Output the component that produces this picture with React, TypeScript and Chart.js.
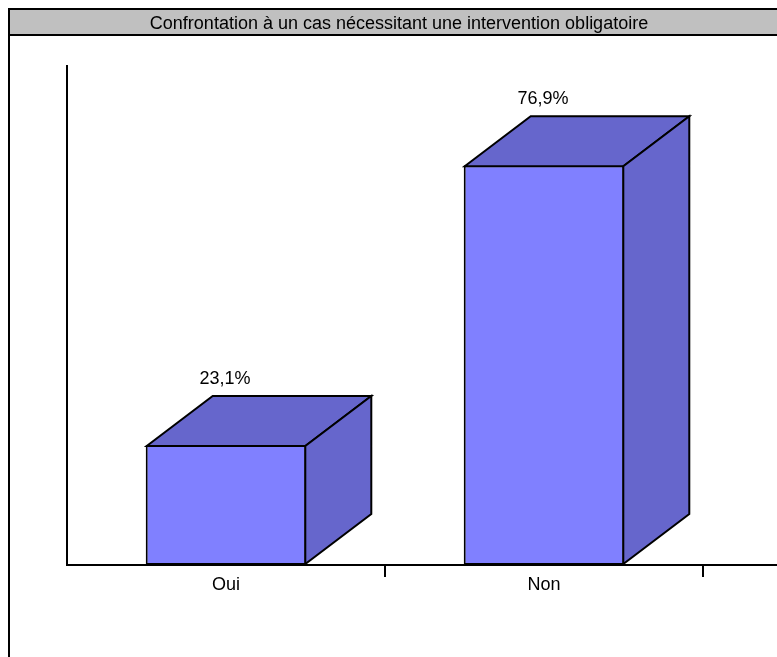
import React, { useEffect, useRef } from 'react';
import { Chart, registerables } from 'chart.js';

Chart.register(...registerables);

const TITLE = 'Confrontation à un cas nécessitant une intervention obligatoire';
const CATEGORIES = ['Oui', 'Non'];
const PERCENTAGES = [23.1, 76.9];
const Y_MAX = 96;

const CANVAS_W = 783;
const CANVAS_H = 660;
const FONT = '"Liberation Sans", Arial, sans-serif';
const FONT_SIZE = 18;
const FRONT_COLOR = '#8080FF';
const SHADE_COLOR = '#6666CC';
const LINE_W = 2;
const DEPTH_X = 66;
const DEPTH_Y = 50;

const formatPct = (v: number) => v.toFixed(1).replace('.', ',') + '%';

// Frame, grey title band and title text
const framePlugin = {
  id: 'frame',
  beforeDraw(chart: any) {
    const { ctx, width, height } = chart;
    ctx.save();
    ctx.fillStyle = '#FFFFFF';
    ctx.fillRect(0, 0, width, height);
    ctx.fillStyle = '#C0C0C0';
    ctx.fillRect(2, 2, width - 4, 24);
    ctx.strokeStyle = '#000000';
    ctx.lineWidth = 2;
    ctx.strokeRect(1, 1, width - 2, height - 2);
    ctx.beginPath();
    ctx.moveTo(0, 27);
    ctx.lineTo(width, 27);
    ctx.stroke();
    ctx.fillStyle = '#000000';
    ctx.font = `${FONT_SIZE}px ${FONT}`;
    ctx.textAlign = 'center';
    ctx.textBaseline = 'alphabetic';
    ctx.fillText(TITLE, 391, 21);
    ctx.restore();
  },
};

// Top and side faces of each bar, value labels, and the floor line continuation
const bar3dPlugin = {
  id: 'bar3d',
  afterDatasetsDraw(chart: any) {
    const { ctx, chartArea } = chart;
    const meta = chart.getDatasetMeta(0);
    const data = chart.data.datasets[0].data as number[];
    ctx.save();
    ctx.lineWidth = LINE_W;
    ctx.strokeStyle = '#000000';
    ctx.lineJoin = 'miter';
    meta.data.forEach((bar: any, i: number) => {
      const { x, y, base, width } = bar.getProps(['x', 'y', 'base', 'width'], true);
      const l = x - width / 2 + 1;
      const r = x + width / 2 - 1;
      const t = y + 1;
      const b = base - 1;
      // top face
      ctx.beginPath();
      ctx.moveTo(l, t);
      ctx.lineTo(l + DEPTH_X, t - DEPTH_Y);
      ctx.lineTo(r + DEPTH_X, t - DEPTH_Y);
      ctx.lineTo(r, t);
      ctx.closePath();
      ctx.fillStyle = SHADE_COLOR;
      ctx.fill();
      ctx.stroke();
      // side face
      ctx.beginPath();
      ctx.moveTo(r, t);
      ctx.lineTo(r + DEPTH_X, t - DEPTH_Y);
      ctx.lineTo(r + DEPTH_X, b - DEPTH_Y);
      ctx.lineTo(r, b);
      ctx.closePath();
      ctx.fillStyle = SHADE_COLOR;
      ctx.fill();
      ctx.stroke();
      // value label
      ctx.fillStyle = '#000000';
      ctx.font = `${FONT_SIZE}px ${FONT}`;
      ctx.textAlign = 'center';
      ctx.textBaseline = 'alphabetic';
      ctx.fillText(formatPct(data[i]), x - 1, y - DEPTH_Y - 11);
    });
    ctx.beginPath();
    ctx.moveTo(chartArea.right, chartArea.bottom);
    ctx.lineTo(chart.width, chartArea.bottom);
    ctx.stroke();
    ctx.restore();
  },
};

export default function App() {
  const canvasRef = useRef<HTMLCanvasElement | null>(null);

  useEffect(() => {
    if (!canvasRef.current) return;
    const chart = new Chart(canvasRef.current, {
      type: 'bar',
      data: {
        labels: CATEGORIES,
        datasets: [
          {
            data: PERCENTAGES,
            backgroundColor: FRONT_COLOR,
            borderColor: '#000000',
            borderWidth: LINE_W,
            borderSkipped: false,
            barPercentage: 0.505,
            categoryPercentage: 1,
          },
        ],
      },
      options: {
        responsive: false,
        animation: false,
        devicePixelRatio: 1,
        layout: { padding: { top: 58, left: 59, right: 88, bottom: CANVAS_H - 557 - 40 } },
        plugins: {
          legend: { display: false },
          title: { display: false },
          tooltip: { enabled: false },
        },
        scales: {
          x: {
            afterFit: (s: any) => {
              s.height = 40;
            },
            grid: {
              display: true,
              offset: true,
              drawOnChartArea: false,
              drawTicks: true,
              tickLength: 12,
              lineWidth: LINE_W,
              color: (c: any) => (c.index === 0 ? 'rgba(0,0,0,0)' : '#000000'),
            },
            border: { display: true, color: '#000000', width: LINE_W },
            ticks: {
              color: '#000000',
              padding: -3,
              maxRotation: 0,
              font: { family: FONT, size: FONT_SIZE },
            },
          },
          y: {
            min: 0,
            max: Y_MAX,
            afterFit: (s: any) => {
              s.width = 0;
            },
            grid: { display: false },
            border: { display: true, color: '#000000', width: LINE_W },
            ticks: { display: false },
          },
        },
      },
      plugins: [framePlugin, bar3dPlugin],
    });
    return () => chart.destroy();
  }, []);

  return (
    <div
      style={{
        position: 'absolute',
        left: 8,
        top: 8,
        width: 769,
        height: 649,
        overflow: 'hidden',
      }}
    >
      <canvas ref={canvasRef} width={CANVAS_W} height={CANVAS_H} style={{ display: 'block' }} />
    </div>
  );
}
